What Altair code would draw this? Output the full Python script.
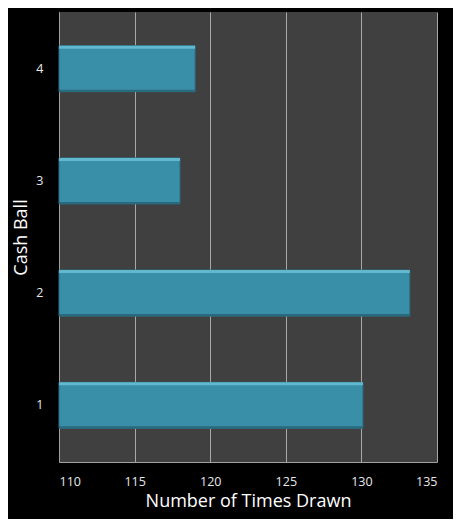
import altair as alt
import pandas as pd

cash_ball = ["4", "3", "2", "1"]
times_drawn = [119, 118, 133.2, 130.1]

df = pd.DataFrame({"ball": cash_ball, "count": times_drawn})

FONT = "Open Sans"

y_enc = alt.Y("ball:N", sort=cash_ball, title="Cash Ball",
              scale=alt.Scale(paddingInner=0.59, paddingOuter=0.3),
              axis=alt.Axis(labelColor="#e8e8e8", labelFontSize=12.5, labelPadding=16,
                            ticks=False, domain=True, domainColor="#a0a0a0",
                            titleColor="#ffffff", titleFontSize=18, titleFontWeight="normal",
                            titlePadding=5, labelAngle=0, grid=False,
                            labelFont=FONT, titleFont=FONT))
x_enc = alt.X("count:Q", title="Number of Times Drawn",
              scale=alt.Scale(domain=[110, 135], nice=False, zero=False),
              axis=alt.Axis(values=[110, 115, 120, 125, 130, 135], labelColor="#e8e8e8",
                            labelFontSize=12.5, labelPadding=13, ticks=False,
                            domainColor="#a0a0a0", gridColor="#a8a8a8", gridWidth=1,
                            titleColor="#ffffff", titleFontSize=18, titleFontWeight="normal",
                            titlePadding=5, labelFont=FONT, titleFont=FONT))

bars = alt.Chart(df).mark_bar(color="#3a8fa8", stroke="#2b6f83", strokeWidth=1).encode(
    x=x_enc, x2=alt.datum(110), y=y_enc)

highlight = alt.Chart(df).mark_bar(color="#62b8ce", height=3, yOffset=-21.5).encode(
    x="count:Q", x2=alt.datum(110), y=alt.Y("ball:N", sort=cash_ball))

shade = alt.Chart(df).mark_bar(color="#2a6a7e", height=2, yOffset=22).encode(
    x="count:Q", x2=alt.datum(110), y=alt.Y("ball:N", sort=cash_ball))

chart = alt.layer(bars, highlight, shade).properties(
    width=378, height=450, background="#000000",
    autosize=alt.AutoSizeParams(type="none"),
    padding={"left": 51, "top": 4, "right": 16, "bottom": 57},
).configure_view(fill="#404040", stroke=None)

chart.save("out.html", embed_options={"renderer": "svg", "actions": False})
